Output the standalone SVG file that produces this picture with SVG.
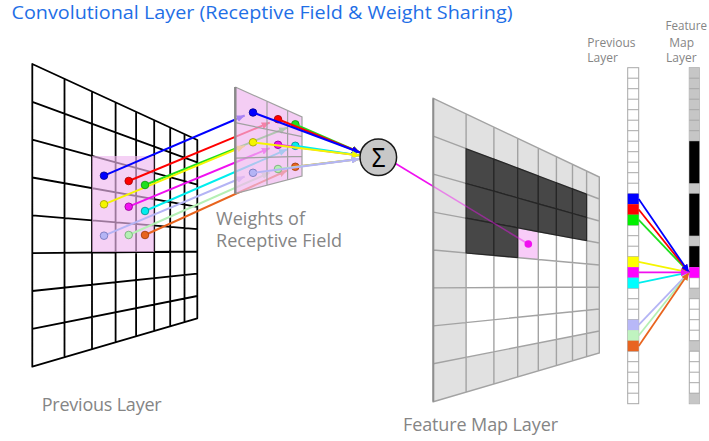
<svg xmlns="http://www.w3.org/2000/svg" width="709" height="441" viewBox="0 0 709 441">
<style>
text{font-family:"Open Sans","Liberation Sans",sans-serif;}
.title{font-size:19px;fill:#1f6fe6;}
.lbl{font-size:18px;fill:#858585;}
.sm{font-size:12px;fill:#858585;}
.grid{fill:none;stroke:#000;stroke-width:1.8;stroke-linejoin:round;}
.wgrid{fill:none;stroke:#a0a0a0;stroke-width:1.2;}
.fgrid{fill:none;stroke:#a3a3a3;stroke-width:1.4;}
.dark{fill:#474747;stroke:#262626;stroke-width:1.2;}
.cn{fill:none;stroke-width:2;}
.cn2{fill:none;stroke-width:1.8;}
.dot{stroke-width:0.8;}
.cell{fill:#fff;stroke:#a8a8a8;stroke-width:1;}
</style>
<defs>
<marker id="m-blue" viewBox="0 0 8 7" refX="8" refY="3.5" markerWidth="8" markerHeight="7" markerUnits="userSpaceOnUse" orient="auto"><path d="M0,0L8,3.5L0,7z" fill="#0000ff"/></marker>
<marker id="m-red" viewBox="0 0 8 7" refX="8" refY="3.5" markerWidth="8" markerHeight="7" markerUnits="userSpaceOnUse" orient="auto"><path d="M0,0L8,3.5L0,7z" fill="#ff0000"/></marker>
<marker id="m-green" viewBox="0 0 8 7" refX="8" refY="3.5" markerWidth="8" markerHeight="7" markerUnits="userSpaceOnUse" orient="auto"><path d="M0,0L8,3.5L0,7z" fill="#1ee01e"/></marker>
<marker id="m-yellow" viewBox="0 0 8 7" refX="8" refY="3.5" markerWidth="8" markerHeight="7" markerUnits="userSpaceOnUse" orient="auto"><path d="M0,0L8,3.5L0,7z" fill="#f5f500"/></marker>
<marker id="m-magenta" viewBox="0 0 8 7" refX="8" refY="3.5" markerWidth="8" markerHeight="7" markerUnits="userSpaceOnUse" orient="auto"><path d="M0,0L8,3.5L0,7z" fill="#f010f0"/></marker>
<marker id="m-cyan" viewBox="0 0 8 7" refX="8" refY="3.5" markerWidth="8" markerHeight="7" markerUnits="userSpaceOnUse" orient="auto"><path d="M0,0L8,3.5L0,7z" fill="#00eeee"/></marker>
<marker id="m-lav" viewBox="0 0 8 7" refX="8" refY="3.5" markerWidth="8" markerHeight="7" markerUnits="userSpaceOnUse" orient="auto"><path d="M0,0L8,3.5L0,7z" fill="#b4b4f5"/></marker>
<marker id="m-lgreen" viewBox="0 0 8 7" refX="8" refY="3.5" markerWidth="8" markerHeight="7" markerUnits="userSpaceOnUse" orient="auto"><path d="M0,0L8,3.5L0,7z" fill="#b4f0b4"/></marker>
<marker id="m-orange" viewBox="0 0 8 7" refX="8" refY="3.5" markerWidth="8" markerHeight="7" markerUnits="userSpaceOnUse" orient="auto"><path d="M0,0L8,3.5L0,7z" fill="#e8641e"/></marker>
</defs>
<rect width="709" height="441" fill="#fff"/>

<text id="title" class="title" x="11.5" y="18.5" textLength="501" lengthAdjust="spacingAndGlyphs">Convolutional Layer (Receptive Field &amp; Weight Sharing)</text>

<g id="previous-layer">
<path d="M32.3,64L197.3,140L197.3,318.3L32.3,366.7Z" fill="#fff"/>
<path class="grid" d="M32.3,64L197.3,140L197.3,318.3L32.3,366.7Z
M64.5,78.8V357.2M92,91.5V349.2M115.6,102.3V342.3M136.1,111.8V336.2M154.2,120.1V330.9M170.2,127.5V326.2M184.5,134.1V322.1
M32.3,101.8L197.3,162.3M32.3,139.7L197.3,184.6M32.3,177.5L197.3,206.9M32.3,215.4L197.3,229.2M32.3,253.2L197.3,251.5M32.3,291L197.3,273.7M32.3,328.9L197.3,296"/>
<rect x="92" y="156" width="62.2" height="96" fill="#f0b8f0" fill-opacity="0.65"/>
</g>

<g id="connectors-input">
<line class="cn" x1="104" y1="175.7" x2="244.7" y2="115.5" stroke="#0000ff" marker-end="url(#m-blue)"/>
<line class="cn" x1="128.7" y1="181" x2="269.7" y2="122.6" stroke="#ff0000" marker-end="url(#m-red)"/>
<line class="cn" x1="145" y1="185" x2="287" y2="127.7" stroke="#1ee01e" marker-end="url(#m-green)"/>
<line class="cn" x1="104" y1="204.3" x2="244.7" y2="145.8" stroke="#f5f500" marker-end="url(#m-yellow)"/>
<line class="cn" x1="128.7" y1="206.7" x2="269.7" y2="148.2" stroke="#f010f0" marker-end="url(#m-magenta)"/>
<line class="cn" x1="145" y1="211" x2="287" y2="149.4" stroke="#00eeee" marker-end="url(#m-cyan)"/>
<line class="cn" x1="104" y1="235.7" x2="244.7" y2="176.5" stroke="#b4b4f5" marker-end="url(#m-lav)"/>
<line class="cn" x1="128.7" y1="235" x2="269.8" y2="172.6" stroke="#b4f0b4" marker-end="url(#m-lgreen)"/>
<line class="cn" x1="145" y1="235" x2="287.1" y2="170.5" stroke="#e8641e" marker-end="url(#m-orange)"/>
</g>

<g id="receptive-field-dots">
<circle class="dot" cx="104" cy="175.7" r="3.8" fill="#0000ff" stroke="#00008a"/>
<circle class="dot" cx="128.7" cy="181" r="3.8" fill="#ff0000" stroke="#a00000"/>
<circle class="dot" cx="145" cy="185" r="3.8" fill="#1ee01e" stroke="#108a10"/>
<circle class="dot" cx="104" cy="204.3" r="3.8" fill="#f5f500" stroke="#9a9a00"/>
<circle class="dot" cx="128.7" cy="206.7" r="3.8" fill="#f010f0" stroke="#900090"/>
<circle class="dot" cx="145" cy="211" r="3.8" fill="#00eeee" stroke="#008a8a"/>
<circle class="dot" cx="104" cy="235.7" r="3.8" fill="#b4b4f5" stroke="#7070b8"/>
<circle class="dot" cx="128.7" cy="235" r="3.8" fill="#b4f0b4" stroke="#70a870"/>
<circle class="dot" cx="145" cy="235" r="3.8" fill="#e8641e" stroke="#9a3a0a"/>
</g>

<g id="weights">
<path d="M235.3,87L302,117L302,176L235.3,193.7Z" fill="#f0b8f0" fill-opacity="0.7"/>
<path class="wgrid" d="M235.3,87L302,117L302,176L235.3,193.7M267,101.2V185.3M287.6,110.5V179.8M235.3,122.6L302,136.7M235.3,158.1L302,156.3"/>
<path d="M235.3,87V193.7" stroke="#8a8a8a" stroke-width="2.5" fill="none"/>
<circle class="dot" cx="253" cy="112.5" r="3.8" fill="#0000ff" stroke="#00008a"/>
<circle class="dot" cx="278" cy="119.2" r="3.8" fill="#ff0000" stroke="#a00000"/>
<circle class="dot" cx="295.3" cy="124.3" r="3.8" fill="#1ee01e" stroke="#108a10"/>
<circle class="dot" cx="253" cy="142.3" r="3.8" fill="#f5f500" stroke="#9a9a00"/>
<circle class="dot" cx="278" cy="144.8" r="3.8" fill="#f010f0" stroke="#900090"/>
<circle class="dot" cx="295.3" cy="145.8" r="3.8" fill="#00eeee" stroke="#008a8a"/>
<circle class="dot" cx="253" cy="172.8" r="3.8" fill="#b4b4f5" stroke="#7070b8"/>
<circle class="dot" cx="278" cy="169" r="3.8" fill="#b4f0b4" stroke="#70a870"/>
<circle class="dot" cx="295.3" cy="166.8" r="3.8" fill="#e8641e" stroke="#9a3a0a"/>
</g>

<g id="connectors-weights">
<line class="cn" x1="295.3" y1="124.3" x2="360" y2="152.5" stroke="#1ee01e" marker-end="url(#m-green)"/>
<line class="cn" x1="278" y1="119.2" x2="360" y2="152.5" stroke="#ff0000" marker-end="url(#m-red)"/>
<line class="cn" x1="253" y1="112.5" x2="360" y2="152.5" stroke="#0000ff" marker-end="url(#m-blue)"/>
<line class="cn" x1="278" y1="144.8" x2="360" y2="155.5" stroke="#f010f0" marker-end="url(#m-magenta)"/>
<line class="cn" x1="295.3" y1="145.8" x2="360" y2="155.5" stroke="#00eeee" marker-end="url(#m-cyan)"/>
<line class="cn" x1="253" y1="142.3" x2="360" y2="155.5" stroke="#f5f500" marker-end="url(#m-yellow)"/>
<line class="cn" x1="295.3" y1="166.8" x2="359.5" y2="159" stroke="#e8641e" marker-end="url(#m-orange)"/>
<line class="cn" x1="278" y1="169" x2="359.5" y2="159" stroke="#b4f0b4" marker-end="url(#m-lgreen)"/>
<line class="cn" x1="253" y1="172.8" x2="359.5" y2="159" stroke="#b4b4f5" marker-end="url(#m-lav)"/>
<line x1="395.5" y1="163.5" x2="528.3" y2="244" stroke="#f010f0" stroke-width="1.6"/>
</g>

<g id="sum">
<circle cx="378.3" cy="157.3" r="18.3" fill="#c8c8c8" stroke="#1a1a1a" stroke-width="1.5"/>
<text transform="translate(378.5,167) scale(0.85,1)" text-anchor="middle" style="font-family:'Liberation Sans',sans-serif;font-size:27px;fill:#000">Σ</text>
</g>

<g id="feature-map">
<path d="M433.3,98.3L599.3,177L599.3,353L433.3,401.7Z" fill="#e1e1e1"/>
<path d="M466.1,148.7L586.6,194.2L586.6,333.5L466.1,357.4Z" fill="#fff"/>
<path d="M517.7,227.8L538.3,231.7L538.3,259.5L517.7,257.6Z" fill="#f8ccf8"/>
<path class="fgrid" d="M433.3,98.3L599.3,177L599.3,353L433.3,401.7Z
M466.1,113.9V392.1M493.9,127V383.9M517.7,138.3V376.9M538.3,148.1V370.9M556.4,156.7V365.6M572.5,164.3V360.9M586.6,171V356.7
M433.3,136.2L599.3,199M433.3,174.2L599.3,221M433.3,212.1L599.3,243M433.3,250L599.3,265M433.3,287.9L599.3,287M433.3,325.9L599.3,309M433.3,363.8L599.3,331"/>
<path d="M433.3,98.3V401.7" stroke="#8e8e8e" stroke-width="2" fill="none"/>
<polygon class="dark" points="466.1,148.7 493.9,159.1 493.9,191.2 466.1,183.5"/>
<polygon class="dark" points="493.9,159.1 517.7,168.1 517.7,198 493.9,191.2"/>
<polygon class="dark" points="517.7,168.1 538.3,176 538.3,203.8 517.7,198"/>
<polygon class="dark" points="538.3,176 556.4,182.8 556.4,208.9 538.3,203.8"/>
<polygon class="dark" points="556.4,182.8 572.5,188.9 572.5,213.5 556.4,208.9"/>
<polygon class="dark" points="572.5,188.9 586.6,194.2 586.6,217.4 572.5,213.5"/>
<polygon class="dark" points="466.1,183.5 493.9,191.2 493.9,223.3 466.1,218.2"/>
<polygon class="dark" points="493.9,191.2 517.7,198 517.7,227.8 493.9,223.3"/>
<polygon class="dark" points="517.7,198 538.3,203.8 538.3,231.7 517.7,227.8"/>
<polygon class="dark" points="538.3,203.8 556.4,208.9 556.4,235 538.3,231.7"/>
<polygon class="dark" points="556.4,208.9 572.5,213.5 572.5,238 556.4,235"/>
<polygon class="dark" points="572.5,213.5 586.6,217.4 586.6,240.6 572.5,238"/>
<polygon class="dark" points="466.1,218.2 493.9,223.3 493.9,255.4 466.1,253"/>
<polygon class="dark" points="493.9,223.3 517.7,227.8 517.7,257.6 493.9,255.4"/>
<line x1="433.3" y1="186.4" x2="528.3" y2="244" stroke="#f010f0" stroke-width="1.6" stroke-opacity="0.45"/>
<circle cx="528.3" cy="244" r="3.8" fill="#f010f0"/>
</g>

<g id="previous-column">
<rect class="cell" x="627.7" y="67.7" width="11" height="336"/>
<path d="M627.7,78.2h11M627.7,88.7h11M627.7,99.2h11M627.7,109.7h11M627.7,120.2h11M627.7,130.7h11M627.7,141.2h11M627.7,151.7h11M627.7,162.2h11M627.7,172.7h11M627.7,183.2h11M627.7,193.7h11M627.7,204.2h11M627.7,214.7h11M627.7,225.2h11M627.7,235.7h11M627.7,246.2h11M627.7,256.7h11M627.7,267.2h11M627.7,277.7h11M627.7,288.2h11M627.7,298.7h11M627.7,309.2h11M627.7,319.7h11M627.7,330.2h11M627.7,340.7h11M627.7,351.2h11M627.7,361.7h11M627.7,372.2h11M627.7,382.7h11M627.7,393.2h11" stroke="#a8a8a8" stroke-width="1" fill="none"/>
<rect x="627.7" y="193.7" width="11" height="10.5" fill="#0000ff"/>
<rect x="627.7" y="204.2" width="11" height="10.5" fill="#ff0000"/>
<rect x="627.7" y="214.7" width="11" height="10.5" fill="#00f000"/>
<rect x="627.7" y="256.7" width="11" height="10.5" fill="#ffff00"/>
<rect x="627.7" y="267.2" width="11" height="10.5" fill="#ff00ff"/>
<rect x="627.7" y="277.7" width="11" height="10.5" fill="#00ffff"/>
<rect x="627.7" y="319.7" width="11" height="10.5" fill="#b8b8f8"/>
<rect x="627.7" y="330.2" width="11" height="10.5" fill="#c0f4c0"/>
<rect x="627.7" y="340.7" width="11" height="10.5" fill="#e86420"/>
</g>

<g id="feature-column">
<rect class="cell" x="689.3" y="67.7" width="10" height="336"/>
<rect x="689.3" y="67.7" width="10" height="73.5" fill="#c6c6c6"/>
<rect x="689.3" y="183.2" width="10" height="10.5" fill="#c6c6c6"/>
<rect x="689.3" y="235.7" width="10" height="10.5" fill="#c6c6c6"/>
<rect x="689.3" y="288.2" width="10" height="10.5" fill="#c6c6c6"/>
<rect x="689.3" y="340.7" width="10" height="10.5" fill="#c6c6c6"/>
<rect x="689.3" y="393.2" width="10" height="10.5" fill="#c6c6c6"/>
<path d="M689.3,78.2h10M689.3,88.7h10M689.3,99.2h10M689.3,109.7h10M689.3,120.2h10M689.3,130.7h10M689.3,141.2h10M689.3,183.2h10M689.3,193.7h10M689.3,235.7h10M689.3,246.2h10M689.3,267.2h10M689.3,277.7h10M689.3,288.2h10M689.3,298.7h10M689.3,309.2h10M689.3,319.7h10M689.3,330.2h10M689.3,340.7h10M689.3,351.2h10M689.3,361.7h10M689.3,372.2h10M689.3,382.7h10M689.3,393.2h10" stroke="#a8a8a8" stroke-width="1" fill="none"/>
<rect x="689.3" y="141.2" width="10" height="42" fill="#000"/>
<rect x="689.3" y="193.7" width="10" height="42" fill="#000"/>
<rect x="689.3" y="246.2" width="10" height="21" fill="#000"/>
<rect x="689.3" y="267.2" width="10" height="10.5" fill="#ff00ff"/>
</g>

<g id="connectors-columns">
<line class="cn2" x1="638.7" y1="282.95" x2="689" y2="272.45" stroke="#00eeee" marker-end="url(#m-cyan)"/>
<line class="cn2" x1="638.7" y1="324.95" x2="689" y2="272.45" stroke="#b4b4f5" marker-end="url(#m-lav)"/>
<line class="cn2" x1="638.7" y1="335.45" x2="689" y2="272.45" stroke="#b4f0b4" marker-end="url(#m-lgreen)"/>
<line class="cn2" x1="638.7" y1="345.95" x2="689" y2="272.45" stroke="#e8641e" marker-end="url(#m-orange)"/>
<line class="cn2" x1="638.7" y1="261.95" x2="689" y2="272.45" stroke="#f5f500" marker-end="url(#m-yellow)"/>
<line class="cn2" x1="638.7" y1="219.95" x2="689" y2="272.45" stroke="#1ee01e" marker-end="url(#m-green)"/>
<line class="cn2" x1="638.7" y1="209.45" x2="689" y2="272.45" stroke="#ff0000" marker-end="url(#m-red)"/>
<line class="cn2" x1="638.7" y1="198.95" x2="689" y2="272.45" stroke="#0000ff" marker-end="url(#m-blue)"/>
<line class="cn2" x1="638.7" y1="272.45" x2="689" y2="272.45" stroke="#f010f0" marker-end="url(#m-magenta)"/>
</g>

<g id="labels">
<text class="lbl" x="216" y="225" textLength="89">Weights of</text>
<text class="lbl" x="216" y="247" textLength="126">Receptive Field</text>
<text class="lbl" x="41.7" y="410.7" textLength="120">Previous Layer</text>
<text class="lbl" x="403" y="431" textLength="155">Feature Map Layer</text>
<text class="sm" x="587.3" y="46.5">Previous</text>
<text class="sm" x="587.3" y="62">Layer</text>
<text class="sm" x="665.5" y="30" textLength="41.5" lengthAdjust="spacingAndGlyphs">Feature</text>
<text class="sm" x="669.3" y="46.5">Map</text>
<text class="sm" x="666" y="62">Layer</text>
</g>
</svg>
